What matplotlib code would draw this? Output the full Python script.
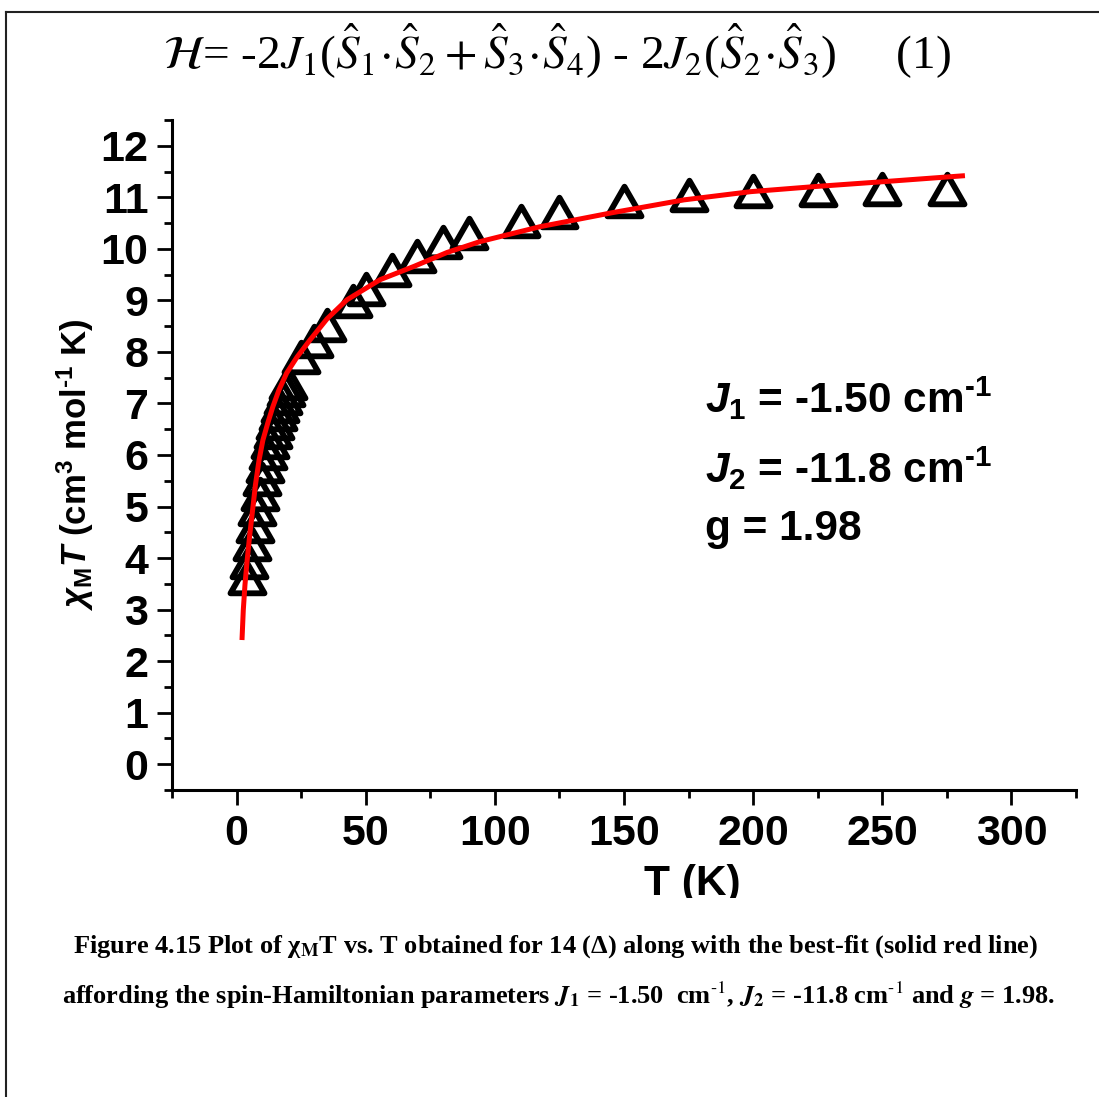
import matplotlib
matplotlib.use("Agg")
import matplotlib.pyplot as plt
from matplotlib.markers import MarkerStyle
from matplotlib.lines import Line2D
from matplotlib.patches import Rectangle
from matplotlib.path import Path

# Measured chi_M*T data (open triangles)
temp_K = [4.2, 5, 6, 7, 8, 9, 10, 11, 12, 13, 14, 15, 16, 17, 18, 19, 20,
          25, 30, 35, 45, 50, 60, 70, 80, 90, 110, 125, 150, 175, 200, 225, 250, 275]
chiT = [3.62, 3.92, 4.28, 4.62, 4.95, 5.25, 5.53, 5.79, 6.03, 6.25, 6.45, 6.63, 6.80,
        6.96, 7.11, 7.26, 7.40,
        7.91, 8.22, 8.53, 8.99, 9.22, 9.58, 9.87, 10.13, 10.30, 10.55, 10.72, 10.93,
        11.05, 11.12, 11.15, 11.17, 11.17]

# Best-fit curve
fit_T = [2.1, 2.6, 3.25, 4.1, 5.1, 6.2, 7.3, 8.7, 10.2, 12.2, 14.0, 16.4, 19.4, 23.4,
         28.4, 35.0, 42.7, 55.5, 68.7, 81.5, 94.2, 117.5, 145.3, 173.2, 199.1, 224.3,
         249.5, 282.0]
fit_chiT = [2.41, 2.99, 3.48, 3.96, 4.45, 4.93, 5.42, 5.90, 6.29, 6.64, 6.93, 7.26,
            7.59, 7.90, 8.23, 8.64, 9.01, 9.40, 9.66, 9.93, 10.14, 10.43, 10.70, 10.95,
            11.11, 11.21, 11.30, 11.42]

x_ticks = [0, 50, 100, 150, 200, 250, 300]
y_ticks = list(range(0, 13))

equation = (r"$\mathcal{H}$= -2$J_1$($\hat{S}_1\!\cdot\!\hat{S}_2 + \hat{S}_3\!\cdot\!\hat{S}_4$)"
            r" - 2$J_2$($\hat{S}_2\!\cdot\!\hat{S}_3$)     (1)")
params = [r"$J_1$ = -1.50 cm$^{\text{-1}}$", r"$J_2$ = -11.8 cm$^{\text{-1}}$", "g = 1.98"]
caption1 = r"Figure 4.15 Plot of χ$_{\mathbf{M}}$T vs. T obtained for 14 (Δ) along with the best-fit (solid red line)"
caption2 = (r"affording the spin-Hamiltonian parameters $\mathbfit{J}_{\mathbf{1}}$ = -1.50  cm$^{\mathbf{\text{-1}}}$, "
            r"$\mathbfit{J}_{\mathbf{2}}$ = -11.8 cm$^{\mathbf{\text{-1}}}$ and $\mathbfit{g}$ = 1.98.")

plt.rcParams["font.family"] = ["Liberation Sans", "DejaVu Sans"]
plt.rcParams["mathtext.fontset"] = "custom"
plt.rcParams["mathtext.rm"] = "Liberation Sans:bold"
plt.rcParams["mathtext.bf"] = "Liberation Sans:bold"
plt.rcParams["mathtext.it"] = "Liberation Sans:italic:bold"

W, H = 1099, 1097
fig = plt.figure(figsize=(W / 100, H / 100), dpi=100)
ax = fig.add_axes([172 / W, 1 - 790 / H, (1076 - 172) / W, (790 - 120) / H])

tri_path = Path([(0, 0.87), (-1, -0.87), (1, -0.87), (0, 0.87)],
                [Path.MOVETO, Path.LINETO, Path.LINETO, Path.CLOSEPOLY])
tri = MarkerStyle(tri_path, joinstyle="round")
ax.plot(temp_K, chiT, linestyle="none", marker=tri, markersize=24.5,
        markerfacecolor="none", markeredgecolor="black", markeredgewidth=4.2, zorder=2)
ax.plot(fit_T, fit_chiT, color="#ff0000", linewidth=3.6, zorder=3,
        solid_capstyle="butt")

ax.set_xlim(-25, 325)
ax.set_ylim(-0.5, 12.5)
ax.set_xticks(x_ticks)
ax.set_xticks([-25 + 50 * i for i in range(8)], minor=True)
ax.set_yticks(y_ticks)
ax.set_yticks([-0.5 + i for i in range(14)], minor=True)

for side in ("top", "right"):
    ax.spines[side].set_visible(False)
for side in ("left", "bottom"):
    ax.spines[side].set_linewidth(2.2)

ax.tick_params(which="major", direction="out", length=11, width=2.0,
               labelsize=31, pad=6)
ax.tick_params(which="minor", direction="out", length=6, width=2.0)
for lab in ax.get_xticklabels() + ax.get_yticklabels():
    lab.set_fontweight("bold")

# Axis titles
fig.text(75 / W, 1 - 465 / H, r"$\chi_{\mathrm{M}}T$ (cm$^{3}$ mol$^{\text{-1}}$ K)",
         rotation=90, ha="center", va="center", fontsize=25, fontweight="bold")
fig.text(692 / W, 1 - 864 / H, "T (K)", ha="center", va="top",
         fontsize=30.5, fontweight="bold")
fig.add_artist(Rectangle((0.01, 1 - 925 / H), 0.98, 27 / H, transform=fig.transFigure,
                         facecolor="white", edgecolor="none", zorder=10))

# Fit parameters
for s, yb in zip(params, [413, 483, 540]):
    fig.text(705 / W, 1 - yb / H, s, ha="left", va="baseline",
             fontsize=30.5, fontweight="bold")

# Hamiltonian
fig.text(557 / W, 1 - 51 / H, equation, ha="center", va="center", fontsize=34,
         family="Liberation Serif", fontweight="normal", math_fontfamily="stix")

# Caption
fig.text(556 / W, 1 - 947 / H, caption1, ha="center", va="center", fontsize=19,
         family="Liberation Serif", fontweight="bold", math_fontfamily="stix")
fig.text(559 / W, 1 - 995 / H, caption2, ha="center", va="center", fontsize=19,
         family="Liberation Serif", fontweight="bold", math_fontfamily="stix")

# Page frame
fig.add_artist(Line2D([6 / W, 6 / W], [0, 1 - 12 / H], transform=fig.transFigure,
                      color="#222222", linewidth=1.5, zorder=11))
fig.add_artist(Line2D([6 / W, 1], [1 - 12 / H, 1 - 12 / H], transform=fig.transFigure,
                      color="#222222", linewidth=1.5, zorder=11))

fig.savefig("out.png", dpi=100)
